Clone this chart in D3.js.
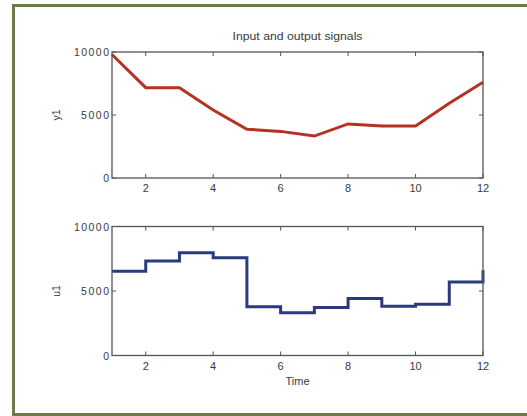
<!DOCTYPE html>
<html><head><meta charset="utf-8">
<script src="https://cdn.jsdelivr.net/npm/d3@7"></script>
<style>
html,body{margin:0;padding:0;background:#fff;}
svg{display:block;}
text{font-family:"Liberation Sans",Arial,sans-serif;fill:#3a3a3a;}
</style></head>
<body>
<svg id="chart" width="527" height="416"></svg>
<script>
// ---- data ----
const time = [1,2,3,4,5,6,7,8,9,10,11,12];
const y1 = [9800,7170,7170,5400,3870,3700,3330,4290,4130,4130,5930,7600];
const u1 = [6530,7320,7970,7580,3770,3310,3720,4420,3820,3980,5700,6600];
const xTicks = [2,4,6,8,10,12];
const yTicks = [0,5000,10000];
const title = "Input and output signals";
const xLabel = "Time";
const yLabelTop = "y1";
const yLabelBottom = "u1";

const svg = d3.select("#chart");

// frame
svg.append("rect").attr("x",13.5).attr("y",5.5).attr("width",530).attr("height",409)
  .attr("fill","none").attr("stroke","#6b7b4b").attr("stroke-width",3);

const x = d3.scaleLinear().domain([1,12]).range([112,483]);

function panel(top, bottom, data, color, stepped, ylab, showTitle, showXLabel){
  const y = d3.scaleLinear().domain([0,10000]).range([bottom, top]);
  const g = svg.append("g");
  // tick marks (inside) on all four sides
  const tl = 4;
  xTicks.forEach(t=>{
    g.append("line").attr("x1",x(t)).attr("x2",x(t)).attr("y1",bottom).attr("y2",bottom-tl).attr("stroke","#555").attr("stroke-width",1);
    g.append("line").attr("x1",x(t)).attr("x2",x(t)).attr("y1",top).attr("y2",top+tl).attr("stroke","#555").attr("stroke-width",1);
    g.append("text").attr("x",x(t)).attr("y",bottom+14).attr("text-anchor","middle")
      .style("font-size","11px").text(t);
  });
  yTicks.forEach(t=>{
    g.append("line").attr("x1",x(1)).attr("x2",x(1)+tl).attr("y1",y(t)).attr("y2",y(t)).attr("stroke","#555").attr("stroke-width",1);
    g.append("line").attr("x1",x(12)).attr("x2",x(12)-tl).attr("y1",y(t)).attr("y2",y(t)).attr("stroke","#555").attr("stroke-width",1);
    g.append("text").attr("x",x(1)-3).attr("y",y(t)+4).attr("text-anchor","end")
      .style("font-size","10.5px").attr("textLength", String(t).length*7).text(t);
  });
  // data line
  const line = d3.line().x((d,i)=>x(time[i])).y(d=>y(d));
  if(stepped) line.curve(d3.curveStepAfter);
  g.append("path").datum(data).attr("d",line).attr("fill","none")
    .attr("stroke",color).attr("stroke-width",3).attr("stroke-linejoin","miter");
  // box
  g.append("rect").attr("x",x(1)).attr("y",top).attr("width",x(12)-x(1)).attr("height",bottom-top)
    .attr("fill","none").attr("stroke","#555").attr("stroke-width",1.3);
  // y label
  g.append("text").attr("transform",`translate(60,${(top+bottom)/2}) rotate(-90)`)
    .attr("text-anchor","middle").style("font-size","10.5px").text(ylab);
  if(showTitle){
    g.append("text").attr("x",(x(1)+x(12))/2).attr("y",top-12).attr("text-anchor","middle")
      .style("font-size","10px").attr("textLength",130).attr("lengthAdjust","spacingAndGlyphs").text(title);
  }
  if(showXLabel){
    g.append("text").attr("x",(x(1)+x(12))/2).attr("y",bottom+29).attr("text-anchor","middle")
      .style("font-size","11px").text(xLabel);
  }
}
panel(52,178,y1,"#b53222",false,yLabelTop,true,false);
panel(226.5,355.5,u1,"#2b3a7c",true,yLabelBottom,false,true);
</script>
</body></html>
